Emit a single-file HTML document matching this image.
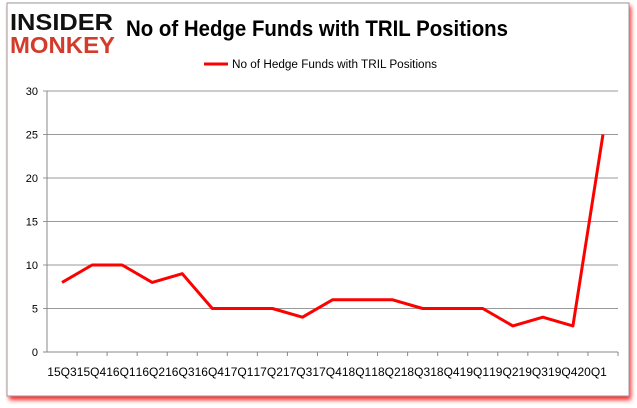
<!DOCTYPE html>
<html><head><meta charset="utf-8"><style>
body{margin:0;width:637px;height:408px;background:#fff;overflow:hidden}
svg{display:block;font-family:"Liberation Sans",sans-serif}
</style></head><body>
<svg width="637" height="408">
<defs><filter id="sh" x="-5%" y="-5%" width="110%" height="115%"><feGaussianBlur stdDeviation="2.5"/></filter></defs>
<rect x="9" y="6" width="622" height="394" fill="#f00" opacity="0.85" filter="url(#sh)"/>
<rect x="7" y="3" width="622" height="393" fill="#fff" stroke="#999"/>
<g>
<text x="10" y="30" font-size="23" font-weight="bold" fill="#111" textLength="103" lengthAdjust="spacingAndGlyphs">INSIDER</text>
<text x="10" y="53" font-size="23" font-weight="bold" fill="#d33c2b" textLength="105" lengthAdjust="spacingAndGlyphs">MONKEY</text>
</g>
<text x="126" y="36" font-size="22" font-weight="bold" fill="#000" textLength="382" lengthAdjust="spacingAndGlyphs">No of Hedge Funds with TRIL Positions</text>
<line x1="204" y1="64" x2="228" y2="64" stroke="#f00" stroke-width="3"/>
<text x="232" y="68" font-size="11.5" fill="#000" textLength="205" lengthAdjust="spacingAndGlyphs">No of Hedge Funds with TRIL Positions</text>
<g id="grid"></g><g id="axes"></g><g id="series"></g>
</svg>
<script>
const categories=["15Q3","15Q4","16Q1","16Q2","16Q3","16Q4","17Q1","17Q2","17Q3","17Q4","18Q1","18Q2","18Q3","18Q4","19Q1","19Q2","19Q3","19Q4","20Q1"];
const values=[8,10,10,8,9,5,5,5,4,6,6,6,5,5,5,3,4,3,25];
const yTicks=[0,5,10,15,20,25,30];
const NS="http://www.w3.org/2000/svg";
const x0=47,x1=618,y0=352,y1=91,yMax=30;
const bw=(x1-x0)/categories.length;
const xs=i=>x0+bw*(i+0.5);
const ys=v=>y0-(v/yMax)*(y0-y1);
function mk(t,a,p){const e=document.createElementNS(NS,t);for(const k in a)e.setAttribute(k,a[k]);p.appendChild(e);return e;}
const grid=document.getElementById('grid'),axes=document.getElementById('axes'),ser=document.getElementById('series');
yTicks.forEach(v=>{
 const l=mk('line',{x1:x0-4,x2:x1,y1:ys(v),y2:ys(v),stroke:v===0?'#888':'#999','stroke-width':1},grid);
 
 
 const t=mk('text',{x:x0-9,y:ys(v)+4,'text-anchor':'end','font-size':11,fill:'#000'},axes);
 t.textContent=v;
 
 
});
const ax=mk('line',{x1:x0,x2:x0,y1:y1,y2:y0,stroke:'#888'},axes);


categories.forEach((c,i)=>{
 const tk=mk('line',{x1:x0+bw*(i+1),x2:x0+bw*(i+1),y1:y0,y2:y0+4,stroke:'#888'},axes);
 
 
 const t=mk('text',{x:xs(i)-14.7-(i*0.6),y:y0+24,'font-size':11.5,fill:'#000',textLength:29.4,lengthAdjust:'spacingAndGlyphs'},axes);
 t.textContent=c;
 
 
});
const p=mk('polyline',{points:values.map((v,i)=>xs(i)+','+ys(v)).join(' '),fill:'none',stroke:'#f00','stroke-width':3,'stroke-linejoin':'round'},ser);


</script>
</body></html>
